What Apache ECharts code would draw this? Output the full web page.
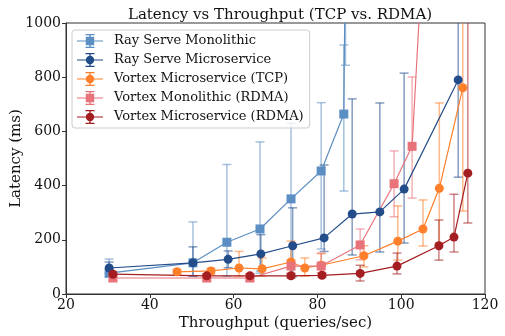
<!DOCTYPE html>
<html>
<head>
<meta charset="utf-8">
<script src="https://cdn.jsdelivr.net/npm/echarts@6/dist/echarts.min.js"></script>
<style>
html,body{margin:0;padding:0;background:#fff;}
#chart{width:505px;height:336px;}
</style>
</head>
<body>
<div id="chart"></div>
<script>
// ---- data ----
const seriesNames = ['Ray Serve Monolithic', 'Ray Serve Microservice', 'Vortex Microservice (TCP)', 'Vortex Monolithic (RDMA)', 'Vortex Microservice (RDMA)'];

const rayMonoX  = [30.3, 50.3, 58.4, 66.3, 73.7, 80.9, 86.3, 86.7];
const rayMonoY  = [77, 115, 191, 240, 351, 454, 664, 1300];
const rayMonoLo = [62, 66, 66, 77, 74, 166, 380, 844];
const rayMonoHi = [129, 266, 478, 561, 630, 706, 919, 1700];

const rayMicroX  = [30.3, 50.3, 58.7, 66.5, 74.1, 81.6, 88.3, 94.9, 100.7, 113.6];
const rayMicroY  = [96, 115, 128, 148, 178, 207, 295, 303, 387, 790];
const rayMicroLo = [76, 66, 97, 85, 64, 157, 144, 155, 188, 431];
const rayMicroHi = [118, 174, 159, 219, 318, 476, 720, 705, 815, 1700];

const tcpX  = [46.5, 54.6, 61.3, 66.8, 73.7, 77.0, 80.9, 91.1, 99.2, 105.2, 109.1, 114.7];
const tcpY  = [82, 85, 96, 93, 118, 96, 106, 141, 195, 240, 390, 761];
const tcpLo = [74, 74, 66, 66, 64, 66, 69, 100, 125, 177, 188, 306];
const tcpHi = [90, 95, 157, 133, 195, 133, 149, 178, 325, 347, 705, 1700];

const rdmaMonoX  = [31.2, 53.6, 63.9, 73.7, 80.9, 90.2, 98.3, 102.6, 106.0];
const rdmaMonoY  = [59, 59, 59, 103, 103, 181, 407, 545, 1500];
const rdmaMonoLo = [48, 48, 48, 79, 79, 126, 285, 354, 1100];
const rdmaMonoHi = [69, 69, 69, 126, 151, 240, 528, 801, 1900];

const rdmaMicroX  = [31.2, 53.6, 63.9, 73.7, 81.1, 90.2, 99.0, 109.0, 112.6, 115.9];
const rdmaMicroY  = [73, 67, 67, 67, 69, 76, 103, 178, 210, 446];
const rdmaMicroLo = [64, 59, 59, 59, 61, 48, 74, 125, 155, 262];
const rdmaMicroHi = [83, 75, 75, 75, 77, 106, 151, 273, 368, 1700];

const xTicks = [20, 40, 60, 80, 100, 120];
const yTicks = [0, 200, 400, 600, 800, 1000];

// ---- styles ----
const colors = ['#5b8ec2', '#234d8a', '#ff7f2a', '#e8737a', '#a41d20'];
const errColors = ['rgba(91,142,194,0.55)', 'rgba(35,77,138,0.55)', 'rgba(255,127,42,0.55)', 'rgba(232,115,122,0.55)', 'rgba(164,29,32,0.55)'];
const symbols = ['rect', 'circle', 'circle', 'rect', 'circle'];
const FONT = 'DejaVu Serif';

const groups = [
  [rayMonoX, rayMonoY, rayMonoLo, rayMonoHi],
  [rayMicroX, rayMicroY, rayMicroLo, rayMicroHi],
  [tcpX, tcpY, tcpLo, tcpHi],
  [rdmaMonoX, rdmaMonoY, rdmaMonoLo, rdmaMonoHi],
  [rdmaMicroX, rdmaMicroY, rdmaMicroLo, rdmaMicroHi]
];

const base = 'M0 6.4H26V7.6H0Z M12.3 0H13.7V14H12.3Z M8.5 0H17.5V1.2H8.5Z M8.5 12.8H17.5V14H8.5Z ';
const iconRect = 'path://' + base + 'M8.8 2.8H17.2V11.2H8.8Z';
const iconCircle = 'path://' + base + 'M17.2 7A4.2 4.2 0 1 1 8.8 7A4.2 4.2 0 1 1 17.2 7Z';

function makeErr(color) {
  return function (params, api) {
    const x = api.value(0), lo = api.value(1), hi = api.value(2);
    const pLo = api.coord([x, lo]);
    const pHi = api.coord([x, hi]);
    const cs = params.coordSys;
    const top = cs.y, bottom = cs.y + cs.height;
    const y1 = Math.max(pHi[1], top), y2 = Math.min(pLo[1], bottom);
    const children = [];
    const st = { stroke: color, lineWidth: 1.5 };
    if (y1 < y2) {
      children.push({ type: 'line', shape: { x1: pLo[0], y1: y1, x2: pLo[0], y2: y2 }, style: st });
    }
    const cw = 4.5;
    if (pHi[1] >= top && pHi[1] <= bottom) {
      children.push({ type: 'line', shape: { x1: pHi[0] - cw, y1: pHi[1], x2: pHi[0] + cw, y2: pHi[1] }, style: st });
    }
    if (pLo[1] >= top && pLo[1] <= bottom) {
      children.push({ type: 'line', shape: { x1: pLo[0] - cw, y1: pLo[1], x2: pLo[0] + cw, y2: pLo[1] }, style: st });
    }
    return { type: 'group', children: children };
  };
}

const series = [];
groups.forEach(function (g, i) {
  const [xs, ys, los, his] = g;
  series.push({
    type: 'custom',
    name: '_err' + i,
    renderItem: makeErr(errColors[i]),
    data: xs.map(function (x, k) { return [x, los[k], his[k]]; }),
    encode: { x: 0, y: [1, 2] },
    clip: true,
    silent: true
  });
  series.push({
    type: 'line',
    name: seriesNames[i],
    data: xs.map(function (x, k) { return [x, ys[k]]; }),
    symbol: symbols[i],
    symbolSize: 9,
    showAllSymbol: true,
    clip: true,
    lineStyle: { color: colors[i], width: 1.2 },
    itemStyle: { color: colors[i] }
  });
});

const chart = echarts.init(document.getElementById('chart'), null, { renderer: 'canvas' });
chart.setOption({
  animation: false,
  title: {
    text: 'Latency vs Throughput (TCP vs. RDMA)',
    left: 275, textAlign: 'center', top: 3,
    textStyle: { fontFamily: FONT, fontSize: 15, fontWeight: 'normal', color: '#111' }
  },
  grid: { left: 66, right: 20, top: 23, bottom: 42, outerBoundsMode: 'none', containLabel: false, show: true, borderColor: '#333', borderWidth: 1, backgroundColor: 'transparent' },
  legend: {
    orient: 'vertical', left: 72, top: 30,
    padding: [4, 6, 4, 5],
    itemWidth: 26, itemHeight: 14, itemGap: 5,
    backgroundColor: 'rgba(255,255,255,0.8)', borderColor: '#ccc', borderWidth: 1, borderRadius: 3,
    textStyle: { fontFamily: FONT, fontSize: 13, color: '#111', padding: [0, 0, 0, 6] },
    data: seriesNames.map(function (n, i) {
      return { name: n, icon: symbols[i] === 'rect' ? iconRect : iconCircle, itemStyle: { color: colors[i] } };
    })
  },
  xAxis: {
    type: 'value', min: xTicks[0], max: xTicks[xTicks.length - 1], interval: 20,
    name: 'Throughput (queries/sec)', nameLocation: 'middle', nameGap: 22, nameMoveOverlap: false,
    nameTextStyle: { fontFamily: FONT, fontSize: 15, color: '#111' },
    axisLine: { show: true, lineStyle: { color: '#333' } },
    axisTick: { show: true, length: 4, lineStyle: { color: '#333' } },
    axisLabel: { fontFamily: FONT, fontSize: 14, color: '#111', margin: 4, formatter: function (v) { return String(v); } },
    splitLine: { show: false }
  },
  yAxis: {
    type: 'value', min: yTicks[0], max: yTicks[yTicks.length - 1], interval: 200,
    name: 'Latency (ms)', nameLocation: 'middle', nameGap: 42, nameMoveOverlap: false,
    nameTextStyle: { fontFamily: FONT, fontSize: 15, color: '#111' },
    axisLine: { show: true, lineStyle: { color: '#333' } },
    axisTick: { show: true, length: 4, lineStyle: { color: '#333' } },
    axisLabel: { fontFamily: FONT, fontSize: 14, color: '#111', margin: 5, formatter: function (v) { return String(v); } },
    splitLine: { show: false }
  },
  series: series
});
</script>
</body>
</html>
